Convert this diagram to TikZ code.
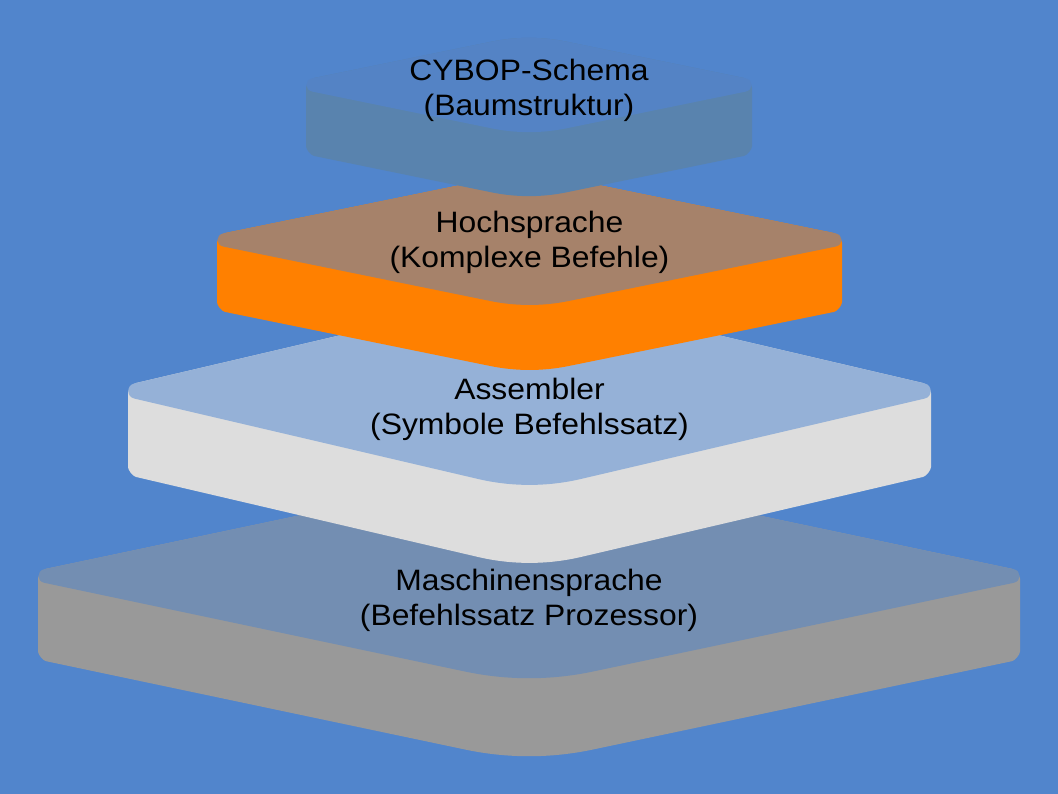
\documentclass[tikz,border=0pt]{standalone}
\usepackage{fontspec}
\setmainfont{Liberation Sans}[FakeStretch=1.08]
\usepackage{xcolor}
\usepackage{tikz}
\definecolor{backblue}{RGB}{81, 133, 204}
\definecolor{cyboptop}{RGB}{84, 131, 197}
\definecolor{cybopside}{RGB}{89, 131, 174}
\definecolor{hochtop}{RGB}{166, 130, 106}
\definecolor{hochside}{RGB}{255, 128, 0}
\definecolor{asmtop}{RGB}{149, 177, 215}
\definecolor{asmside}{RGB}{221, 221, 221}
\definecolor{machtop}{RGB}{115, 142, 178}
\definecolor{machside}{RGB}{153, 153, 153}
\usetikzlibrary{calc}

% #1 centre x, #2 corner y, #3 half width, #4 half height, #5 thickness,
% #6 rounding at the middle corners, #7 top colour, #8 side colour
\newcommand{\drawslab}[8]{%
    \pgfmathsetmacro{\slabk}{0.34*#6}
    \pgfmathsetmacro{\slabd}{#4*26/(#3+26)}
    \coordinate (T) at (#1, #2-#4);
    \coordinate (F) at (#1, #2+#4);
    \coordinate (B) at (#1, #2+#4+#5);
    \coordinate (TR) at (#1+#3+26, #2);
    \coordinate (TL) at (#1-#3-26, #2);
    \coordinate (SR) at (#1+#3, #2-\slabd);
    \coordinate (SRB) at (#1+#3, #2+\slabd+#5);
    \coordinate (SLB) at (#1-#3, #2+\slabd+#5);
    \coordinate (SL) at (#1-#3, #2-\slabd);
    \fill[#8] ($(T)!#6pt!(SR)$)
        -- ($(SR)!8pt!(T)$) .. controls ($(SR)!5pt!(T)$) and ($(SR)!5pt!(SRB)$) .. ($(SR)!8pt!(SRB)$)
        -- ($(SRB)!8pt!(SR)$) .. controls ($(SRB)!5pt!(SR)$) and ($(SRB)!5pt!(B)$) .. ($(SRB)!8pt!(B)$)
        -- ($(B)!#6pt!(SRB)$) .. controls ($(B)!\slabk pt!(SRB)$) and ($(B)!\slabk pt!(SLB)$) .. ($(B)!#6pt!(SLB)$)
        -- ($(SLB)!8pt!(B)$) .. controls ($(SLB)!5pt!(B)$) and ($(SLB)!5pt!(SL)$) .. ($(SLB)!8pt!(SL)$)
        -- ($(SL)!8pt!(SLB)$) .. controls ($(SL)!5pt!(SLB)$) and ($(SL)!5pt!(T)$) .. ($(SL)!8pt!(T)$)
        -- ($(T)!#6pt!(SL)$) .. controls ($(T)!\slabk pt!(SL)$) and ($(T)!\slabk pt!(SR)$) .. ($(T)!#6pt!(SR)$)
        -- cycle;
    \fill[#7] ($(T)!#6pt!(TR)$)
        -- ($(TR)!33pt!(T)$) .. controls ($(TR)!25pt!(T)$) and ($(TR)!25pt!(F)$) .. ($(TR)!33pt!(F)$)
        -- ($(F)!#6pt!(TR)$) .. controls ($(F)!\slabk pt!(TR)$) and ($(F)!\slabk pt!(TL)$) .. ($(F)!#6pt!(TL)$)
        -- ($(TL)!33pt!(F)$) .. controls ($(TL)!25pt!(F)$) and ($(TL)!25pt!(T)$) .. ($(TL)!33pt!(T)$)
        -- ($(T)!#6pt!(TL)$) .. controls ($(T)!\slabk pt!(TL)$) and ($(T)!\slabk pt!(TR)$) .. ($(T)!#6pt!(TR)$)
        -- cycle;
}

\begin{document}
\begin{tikzpicture}[
    x=1pt, y=-1pt,
    layertext/.style={align=center, inner sep=0pt, text=black, font=\fontsize{29.5}{35}\selectfont}
]
    \fill[backblue] (0, 0) rectangle (1058, 794);
    \useasboundingbox (0, 0) rectangle (1058, 794);

    \drawslab{529}{576}{491}{109}{78}{65}{machtop}{machside}
    \node[layertext] (maschine) at (529, 600) {Maschinensprache\\(Befehlssatz Prozessor)};

    \drawslab{529.5}{391}{401.5}{100}{78}{53}{asmtop}{asmside}
    \node[layertext] (assembler) at (529.5, 409) {Assembler\\(Symbole Befehlssatz)};

    \drawslab{529.5}{240}{312.5}{69}{65}{40}{hochtop}{hochside}
    \node[layertext] (hoch) at (529.5, 242) {Hochsprache\\(Komplexe Befehle)};

    \drawslab{529}{85}{223}{51}{64}{38}{cyboptop}{cybopside}
    \node[layertext] (cybop) at (529, 90) {CYBOP-Schema\\(Baumstruktur)};
\end{tikzpicture}
\end{document}
